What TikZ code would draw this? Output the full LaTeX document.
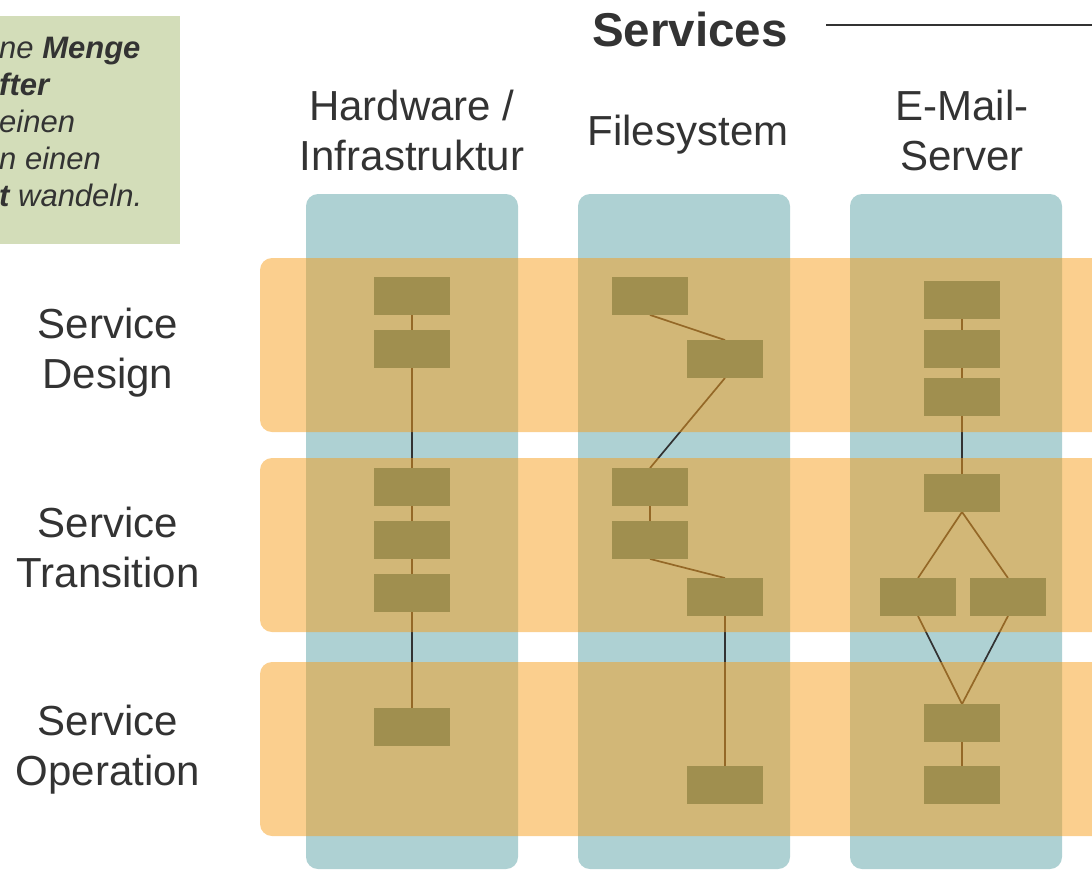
\documentclass[tikz,border=0pt]{standalone}
\usepackage{fontspec}
\setmainfont{Liberation Sans}
\usetikzlibrary{positioning}
\definecolor{svcText}{RGB}{51,51,51}
\definecolor{svcBlue}{RGB}{174,209,211}
\definecolor{svcOrange}{RGB}{247,159,29}
\definecolor{svcBox}{RGB}{160,143,79}
\definecolor{svcLine}{RGB}{50,50,50}
\definecolor{svcNote}{RGB}{211,221,185}
\pgfdeclarelayer{cols}
\pgfdeclarelayer{links}
\pgfdeclarelayer{rows}
\pgfsetlayers{cols,links,rows,main}

\begin{document}
\begin{tikzpicture}[x=1pt,y=-1pt,
    col/.style={fill=svcBlue,rounded corners=12pt},
    row/.style={fill=svcOrange,fill opacity=0.5,rounded corners=12pt},
    blk/.style={fill=svcBox,minimum width=76pt,minimum height=37.5pt,inner sep=0pt},
    link/.style={draw=svcLine,line width=1.7pt},
    lbl/.style={font=\fontsize{42}{50}\selectfont,text=svcText,align=center,inner sep=0pt},
    ttl/.style={font=\fontsize{47.5}{56}\selectfont\bfseries,text=svcText,inner sep=0pt},
    note/.style={font=\fontsize{31}{37}\selectfont\itshape,text=svcText,align=left,inner sep=0pt}]

    \useasboundingbox (0,0) rectangle (1092,871);

    % Note box
    \fill[svcNote] (-10,16) rectangle (180,244);
    \node[note,anchor=north west] (notetext) at (-1,37)
      {ne \textbf{Menge}\\ \textbf{fter}\\ einen\\ n einen\\ \textbf{t} wandeln.};

    % Title
    \node[ttl] (title) at (690,30) {Services};
    \coordinate (ruleL) at (826,25);
    \coordinate (ruleR) at (1100,25);
    \draw[svcText,line width=1.8pt] (ruleL) -- (ruleR);

    % Column heads
    \node[lbl] (hwhead) at (412,130) {Hardware /\\Infrastruktur};
    \node[lbl] (fshead) at (688,135) {Filesystem};
    \node[lbl] (mailhead) at (962,130) {E-Mail-\\Server};

    % Row heads
    \node[lbl] (design) at (108,353) {Service\\Design};
    \node[lbl] (transition) at (108,547) {Service\\Transition};
    \node[lbl] (operation) at (108,750) {Service\\Operation};

    % Columns and rows
    \begin{pgfonlayer}{cols}
      \foreach \x in {306,578,850} {
        \fill[col] (\x,194) rectangle (\x+212,869);
      }
    \end{pgfonlayer}
    \begin{pgfonlayer}{rows}
      \foreach \y in {258,458,662} {
        \fill[row] (260,\y) rectangle (1120,\y+174);
      }
    \end{pgfonlayer}

    % Hardware
    \foreach \i/\y in {1/296,2/349,3/487,4/540,5/593,6/727} {
      \node[blk] (h\i) at (412,\y) {};
    }
    % Filesystem
    \foreach \i/\x/\y in {1/650/296,2/725/359,3/650/487,4/650/540,5/725/597,6/725/785} {
      \node[blk] (f\i) at (\x,\y) {};
    }
    % E-Mail
    \foreach \i/\x/\y in {1/962/300,2/962/349,3/962/397,4/962/493,5/918/597,6/1008/597,7/962/723,8/962/785} {
      \node[blk] (m\i) at (\x,\y) {};
    }

    \begin{pgfonlayer}{links}
      \foreach \i/\j in {1/2,2/3,3/4,4/5,5/6} {
        \draw[link] (h\i.south) -- (h\j.north);
        \draw[link] (f\i.south) -- (f\j.north);
      }
      \foreach \i/\j in {1/2,2/3,3/4,4/5,4/6,5/7,6/7,7/8} {
        \draw[link] (m\i.south) -- (m\j.north);
      }
    \end{pgfonlayer}
\end{tikzpicture}
\end{document}
